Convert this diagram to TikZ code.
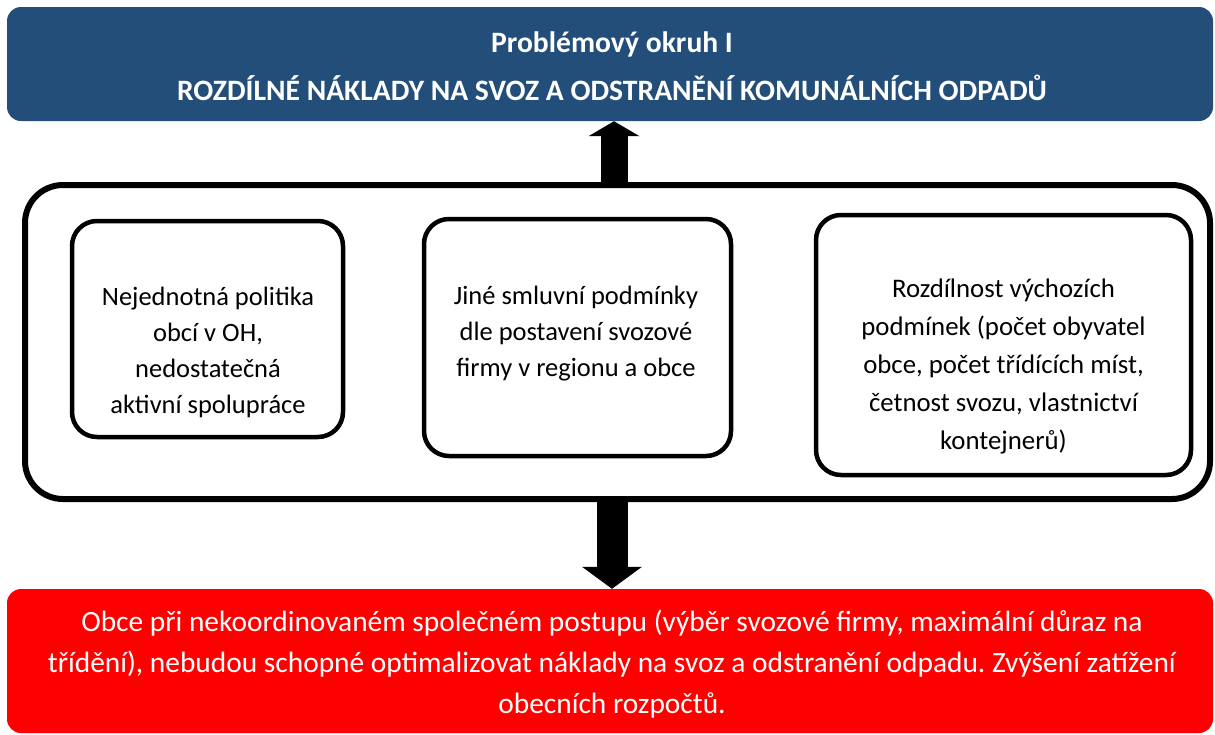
\documentclass[tikz,border=0pt]{standalone}
\usepackage{fontspec}
\setmainfont{Carlito}
\frenchspacing
\usetikzlibrary{arrows.meta}
\definecolor{topblue}{HTML}{224E79}
\definecolor{botred}{HTML}{FF0000}
\tikzset{
  panel/.style={rectangle, inner sep=0pt},
  topbox/.style={panel, fill=topblue, rounded corners=14pt},
  redbox/.style={panel, fill=botred, rounded corners=14pt},
  bigbox/.style={panel, draw=black, line width=6pt, rounded corners=38pt},
  smallbox/.style={panel, draw=black, line width=4.5pt, rounded corners=25pt},
  boxtext/.style={align=center, inner sep=0pt, font=\fontsize{26.5}{36}\selectfont},
  titletext/.style={align=center, inner sep=0pt, text=white, font=\bfseries\fontsize{29.6}{48}\selectfont},
  redtext/.style={align=center, inner sep=0pt, text=white, font=\fontsize{29.4}{41}\selectfont}
}
\begin{document}
\begin{tikzpicture}[x=1pt,y=-1pt]
\useasboundingbox (0,0) rectangle (1215,734);
\node[topbox, minimum width=1206pt, minimum height=114pt] (top) at (610,64) {};
\node[titletext] (title) at (612,66) {Problémový okruh I\\ROZDÍLNÉ NÁKLADY NA SVOZ A ODSTRANĚNÍ KOMUNÁLNÍCH ODPADŮ};
\node[bigbox, minimum width=1185pt, minimum height=314pt] (big) at (617.5,342) {};
\node[smallbox, minimum width=271pt, minimum height=216pt] (b1) at (207.5,329) {};
\node[boxtext] (t1) at (208,352) {Nejednotná politika\\obcí v OH,\\nedostatečná\\aktivní spolupráce};
\node[smallbox, minimum width=307pt, minimum height=237pt] (b2) at (577.5,337.5) {};
\node[boxtext] (t2) at (576,334) {Jiné smluvní podmínky\\dle postavení svozové\\firmy v regionu a obce};
\node[smallbox, minimum width=375pt, minimum height=260pt] (b3) at (1003.5,345) {};
\node[boxtext, font=\fontsize{26.8}{38}\selectfont] (t3) at (1003.5,366) {Rozdílnost výchozích\\podmínek (počet obyvatel\\obce, počet třídících míst,\\četnost svozu, vlastnictví\\kontejnerů)};
\node[redbox, minimum width=1206pt, minimum height=144pt] (red) at (610,661) {};
\node[redtext] (rt) at (612,664) {Obce při nekoordinovaném společném postupu (výběr svozové firmy, maximální důraz na\\třídění), nebudou schopné optimalizovat náklady na svoz a odstranění odpadu. Zvýšení zatížení\\obecních rozpočtů.};
\coordinate (ux) at (614,0);
\coordinate (dx) at (612,0);
\draw[line width=27pt, -{Triangle[width=51pt 0 0,length=15pt 0 0,line width=0pt 0 0]}] (big.north -| ux) -- (top.south -| ux);
\draw[line width=31pt, -{Triangle[width=60pt 0 0,length=22pt 0 0,line width=0pt 0 0]}] (big.south -| dx) -- (red.north -| dx);
\end{tikzpicture}
\end{document}
